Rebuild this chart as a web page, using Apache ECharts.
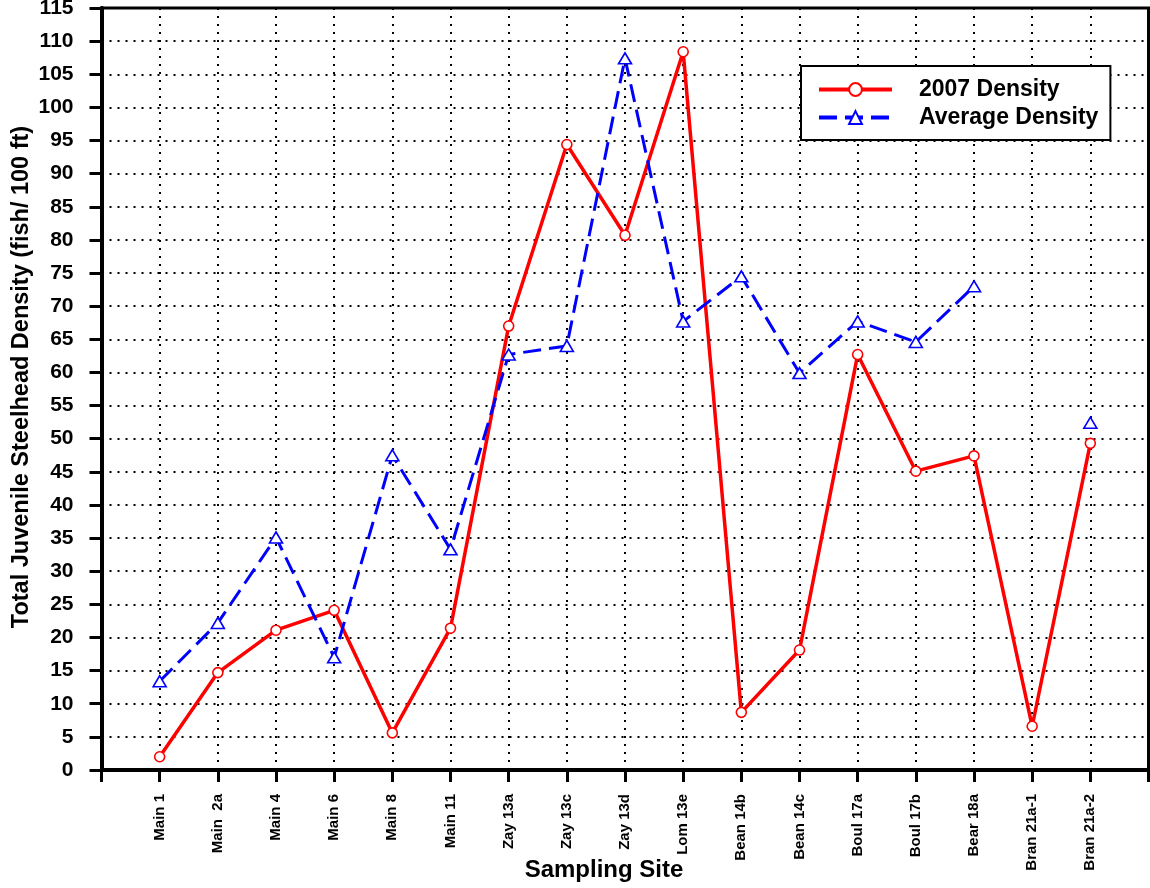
<!DOCTYPE html>
<html>
<head>
<meta charset="utf-8">
<script src="https://cdn.jsdelivr.net/npm/echarts@6/dist/echarts.min.js"></script>
<style>
html,body{margin:0;padding:0;background:#fff;}
#chart{width:1150px;height:888px;}
</style>
</head>
<body>
<div id="chart"></div>
<script>
var categories = ['Main 1','Main  2a','Main 4','Main 6','Main 8','Main 11','Zay 13a','Zay 13c','Zay 13d','Lom 13e','Bean 14b','Bean 14c','Boul 17a','Boul 17b','Bear 18a','Bran 21a-1','Bran 21a-2'];
var density2007 = [2.0, 14.7, 21.1, 24.1, 5.6, 21.4, 67.0, 94.4, 80.7, 108.4, 8.7, 18.1, 62.7, 45.1, 47.4, 6.6, 49.3];
var averageDensity = [13.4, 22.2, 35.1, 17.0, 47.5, 33.3, 62.7, 64.0, 107.4, 67.7, 74.5, 59.9, 67.7, 64.6, 73.0, null, 52.4];

var FONT = '"Liberation Sans", Arial, sans-serif';

function toPoints(arr){
  return arr.map(function(v,i){ return [i+1, v]; });
}

var chart = echarts.init(document.getElementById('chart'), null, {renderer:'canvas'});
chart.setOption({
  animation:false,
  backgroundColor:'#fff',
  grid:{left:101.5, right:1.5, top:8, bottom:118, show:true, borderColor:'#000', borderWidth:3,
        backgroundColor:'transparent', containLabel:false, outerBoundsMode:'none'},
  legend:{
    orient:'vertical', left:801, top:66,
    backgroundColor:'#fff', borderColor:'#000', borderWidth:2,
    padding:[12,12,11,16],
    itemWidth:73, itemHeight:16, itemGap:5,
    lineStyle:{width:4},
    textStyle:{fontFamily:FONT, fontWeight:'bold', fontSize:23, color:'#000', padding:[0,0,0,22]},
    data:['2007 Density','Average Density']
  },
  xAxis:{
    type:'value', min:0, max:categories.length+1, interval:1,
    name:'Sampling Site', nameLocation:'middle', nameGap:88, nameMoveOverlap:false,
    nameTextStyle:{fontFamily:FONT, fontWeight:'bold', fontSize:24, color:'#000', padding:[0,42,0,0]},
    axisLine:{show:true, onZero:false, lineStyle:{color:'#000', width:4}},
    axisTick:{show:true, inside:false, length:12, lineStyle:{color:'#000', width:3}},
    axisLabel:{
      rotate:90, margin:24, fontFamily:FONT, fontWeight:'bold', fontSize:15, color:'#000',
      showMinLabel:true, showMaxLabel:true,
      formatter:function(v){ var i = Math.round(v)-1; return (i>=0 && i<categories.length) ? categories[i] : ''; }
    },
    splitLine:{show:true, lineStyle:{color:'#000', width:2, type:[2,6]}}
  },
  yAxis:{
    type:'value', min:0, max:115, interval:5,
    name:'Total Juvenile Steelhead Density (fish/ 100 ft)', nameLocation:'middle', nameGap:68, nameMoveOverlap:false,
    nameTextStyle:{fontFamily:FONT, fontWeight:'bold', fontSize:23.5, color:'#000', padding:[0,0,0,24]},
    axisLine:{show:true, lineStyle:{color:'#000', width:4}},
    axisTick:{show:true, inside:false, length:12, lineStyle:{color:'#000', width:3}},
    axisLabel:{margin:28, fontFamily:FONT, fontWeight:'bold', fontSize:21, color:'#000'},
    splitLine:{show:true, lineStyle:{color:'#000', width:2, type:[2,6]}}
  },
  series:[
    {
      name:'2007 Density', type:'line', data:toPoints(density2007),
      symbol:'circle', symbolSize:10, showSymbol:true,
      lineStyle:{color:'#ff0000', width:3.5},
      itemStyle:{color:'#fff', borderColor:'#ff0000', borderWidth:1.6},
      z:3
    },
    {
      name:'Average Density', type:'line', data:toPoints(averageDensity),
      symbol:'triangle', symbolSize:[13,11], showSymbol:true, connectNulls:false,
      lineStyle:{color:'#0000ff', width:3, type:[18,8]},
      itemStyle:{color:'#fff', borderColor:'#0000ff', borderWidth:1.6},
      z:4
    }
  ]
});
</script>
</body>
</html>
